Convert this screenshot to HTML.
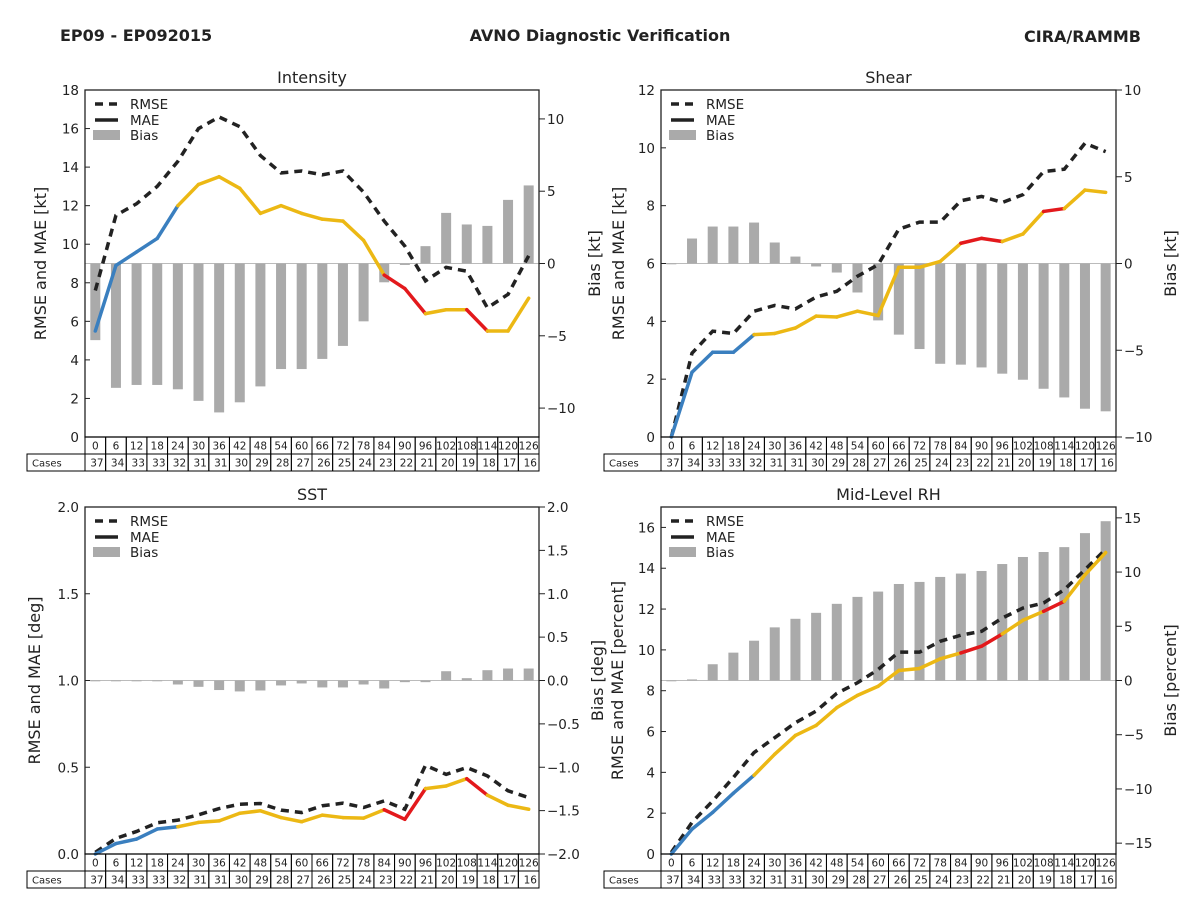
<!DOCTYPE html>
<html><head><meta charset="utf-8"><style>
html,body{margin:0;padding:0;background:#fff;}
svg{display:block;font-family:"DejaVu Sans","Liberation Sans",sans-serif;}
</style></head><body>
<svg id="c" width="1200" height="900" viewBox="0 0 1200 900" xmlns="http://www.w3.org/2000/svg">
<rect width="1200" height="900" fill="#fff"/>
<text x="60" y="41" font-size="16" font-weight="bold" fill="#222">EP09 - EP092015</text>
<text x="600" y="41" font-size="16" font-weight="bold" fill="#222" text-anchor="middle">AVNO Diagnostic Verification</text>
<text x="1141" y="42" font-size="16" font-weight="bold" fill="#222" text-anchor="end">CIRA/RAMMB</text>
</svg>
<script>
const leads = [0,6,12,18,24,30,36,42,48,54,60,66,72,78,84,90,96,102,108,114,120,126];
const cases = [37,34,33,33,32,31,31,30,29,28,27,26,25,24,23,22,21,20,19,18,17,16];
const segColors = ['b','b','b','b','y','y','y','y','y','y','y','y','y','y','r','r','y','y','r','y','y'];

const intRmse = [7.6,11.5,12.1,13.0,14.3,16.0,16.6,16.1,14.6,13.7,13.8,13.6,13.8,12.7,11.2,9.9,8.1,8.8,8.6,6.7,7.4,9.4];
const intMae  = [5.5,8.9,9.6,10.3,12.0,13.1,13.5,12.9,11.6,12.0,11.6,11.3,11.2,10.2,8.4,7.7,6.4,6.6,6.6,5.5,5.5,7.2];
const intBias = [-5.3,-8.6,-8.4,-8.4,-8.7,-9.5,-10.3,-9.6,-8.5,-7.3,-7.3,-6.6,-5.7,-4.0,-1.3,-0.1,1.2,3.5,2.7,2.6,4.4,5.4];

const shrRmse = [0.0,2.9,3.66,3.58,4.35,4.55,4.43,4.84,5.04,5.56,5.96,7.19,7.43,7.43,8.17,8.32,8.11,8.38,9.18,9.26,10.16,9.87];
const shrMae  = [0.0,2.24,2.93,2.93,3.54,3.58,3.77,4.18,4.15,4.35,4.2,5.87,5.87,6.07,6.7,6.87,6.76,7.02,7.8,7.9,8.54,8.46];
const shrBias = [0.0,1.44,2.13,2.13,2.36,1.21,0.4,-0.17,-0.52,-1.67,-3.28,-4.1,-4.93,-5.78,-5.83,-5.99,-6.35,-6.7,-7.22,-7.72,-8.37,-8.52];

const sstRmse = [0.01,0.09,0.13,0.18,0.195,0.226,0.262,0.287,0.291,0.253,0.239,0.278,0.293,0.268,0.306,0.258,0.511,0.459,0.498,0.45,0.364,0.325];
const sstMae  = [0.0,0.06,0.086,0.144,0.157,0.182,0.191,0.235,0.249,0.21,0.186,0.224,0.21,0.207,0.255,0.2,0.377,0.392,0.434,0.339,0.281,0.258];
const sstBias = [0.0,0.0,0.0,0.0,-0.046,-0.073,-0.11,-0.126,-0.115,-0.057,-0.034,-0.08,-0.08,-0.046,-0.092,-0.019,-0.019,0.107,0.027,0.119,0.138,0.138];

const rhRmse = [0.08,1.55,2.6,3.75,4.97,5.7,6.43,7.0,7.87,8.39,9.04,9.89,9.89,10.42,10.72,10.91,11.56,12.05,12.3,12.95,13.93,14.93];
const rhMae  = [0.0,1.22,2.04,2.98,3.86,4.89,5.81,6.3,7.17,7.77,8.22,8.99,9.09,9.56,9.85,10.18,10.78,11.45,11.89,12.38,13.68,14.77];
const rhBias = [0.0,0.1,1.5,2.57,3.67,4.9,5.69,6.24,7.07,7.71,8.2,8.9,9.09,9.55,9.86,10.1,10.74,11.39,11.85,12.3,13.59,14.69];

const intLeftTicks = [0,2,4,6,8,10,12,14,16,18];
const intRightTicks = [10,5,0,-5,-10];
const shrLeftTicks = [0,2,4,6,8,10,12];
const shrRightTicks = [10,5,0,-5,-10];
const sstLeftTicks = [0,0.5,1.0,1.5,2.0];
const sstRightTicks = [2.0,1.5,1.0,0.5,0,-0.5,-1.0,-1.5,-2.0];
const rhLeftTicks = [0,2,4,6,8,10,12,14,16];
const rhRightTicks = [15,10,5,0,-5,-10,-15];

const NS='http://www.w3.org/2000/svg';
const svg=document.getElementById('c');
const COL={b:'#3a7fbf',y:'#ecb814',r:'#e3191c'};
function mk(tag,attrs,parent,txt){const e=document.createElementNS(NS,tag);for(const k in attrs)e.setAttribute(k,attrs[k]);if(txt!==undefined)e.textContent=txt;(parent||svg).appendChild(e);return e;}
function fmt(v,dec){let s=v.toFixed(dec);if(v<0)s='\u2212'+(-v).toFixed(dec);return s;}

function panel(o){
  const g=mk('g',{});
  
  
  const L=o.x0,R=o.x1,T=o.y0,B=o.y1,W=R-L,H=B-T;
  const n=leads.length, cw=W/n;
  const xs=i=>L+cw*(i+0.5);
  const yl=v=>B-(v-o.lmin)/(o.lmax-o.lmin)*H;
  const yr=v=>B-(v-o.rmin)/(o.rmax-o.rmin)*H;
  // title
  const t=mk('text',{x:(L+R)/2,y:T-7,'font-size':16,'text-anchor':'middle',fill:'#222'},g,o.title);
  
  
  // zero line
  const z=mk('line',{x1:L,x2:R,y1:yr(0),y2:yr(0),stroke:'#bbb','stroke-width':1},g);
  
  
  // bias bars
  o.bias.forEach((v,i)=>{
    const y0=yr(0),y1=yr(v);
    const r=mk('rect',{x:xs(i)-5,y:Math.min(y0,y1),width:10,height:Math.max(Math.abs(y1-y0),0.8),fill:'#aaaaaa'},g);
    
    
  });
  // rmse dashed
  const pts=o.rmse.map((v,i)=>xs(i)+','+yl(v)).join(' ');
  const pl=mk('polyline',{points:pts,fill:'none',stroke:'#222','stroke-width':3.5,'stroke-dasharray':'8,6'},g);
  
  
  // mae colored segments
  for(let i=0;i<n-1;i++){
    const s=mk('line',{x1:xs(i),y1:yl(o.mae[i]),x2:xs(i+1),y2:yl(o.mae[i+1]),stroke:COL[segColors[i]],'stroke-width':3.5,'stroke-linecap':'round'},g);
    
    
  }
  // frame
  const fr=mk('rect',{x:L,y:T,width:W,height:H,fill:'none',stroke:'#222','stroke-width':1.3},g);
  
  
  // left ticks
  o.lt.forEach(v=>{
    const y=yl(v);
    mk('line',{x1:L,x2:L+5,y1:y,y2:y,stroke:'#222'},g);
    const tl=mk('text',{x:L-6,y:y+5,'font-size':13.5,'text-anchor':'end',fill:'#222'},g,fmt(v,o.ldec));
    
    
  });
  o.rt.forEach(v=>{
    const y=yr(v);
    mk('line',{x1:R,x2:R+6,y1:y,y2:y,stroke:'#222'},g);
    const tr=mk('text',{x:R+8,y:y+5,'font-size':13.5,fill:'#222'},g,fmt(v,o.rdec));
    
    
  });
  // axis labels
  const la=mk('text',{x:0,y:0,'font-size':16,'text-anchor':'middle',fill:'#222',transform:`translate(${o.llx},${(T+B)/2}) rotate(-90)`},g,o.ylabel);
  
  
  const ra=mk('text',{x:0,y:0,'font-size':16,'text-anchor':'middle',fill:'#222',transform:`translate(${o.rlx},${(T+B)/2}) rotate(-90)`},g,o.rlabel);
  
  
  // legend
  const lg=mk('g',{},g);
  
  
  mk('line',{x1:L+10,x2:L+33,y1:T+14,y2:T+14,stroke:'#222','stroke-width':3.5,'stroke-dasharray':'8,6'},lg);
  mk('text',{x:L+45,y:T+19,'font-size':13.5,fill:'#222'},lg,'RMSE');
  mk('line',{x1:L+10,x2:L+33,y1:T+30,y2:T+30,stroke:'#222','stroke-width':3.5},lg);
  mk('text',{x:L+45,y:T+35,'font-size':13.5,fill:'#222'},lg,'MAE');
  mk('rect',{x:L+8,y:T+40,width:27,height:10,fill:'#aaaaaa'},lg);
  mk('text',{x:L+45,y:T+50,'font-size':13.5,fill:'#222'},lg,'Bias');
  // table
  const tb=mk('g',{},g);
  
  
  const r1=B,r2=B+17,r3=B+34;
  mk('rect',{x:o.cx,y:r2,width:L-o.cx,height:17,fill:'none',stroke:'#000','stroke-width':1},tb);
  mk('text',{x:o.cx+5,y:r2+12.5,'font-size':10,fill:'#222'},tb,'Cases');
  for(let i=0;i<n;i++){
    const x=L+cw*i;
    mk('rect',{x:x,y:r1,width:cw,height:17,fill:'none',stroke:'#000','stroke-width':1},tb);
    mk('rect',{x:x,y:r2,width:cw,height:17,fill:'none',stroke:'#000','stroke-width':1},tb);
    const lt=mk('text',{x:x+cw/2,y:r1+12.5,'font-size':10.5,'text-anchor':'middle',fill:'#222'},tb,String(leads[i]));
    
    
    const ct=mk('text',{x:x+cw-2,y:r2+12.5,'font-size':10.5,'text-anchor':'end',fill:'#222'},tb,String(cases[i]));
    
    
  }
}

panel({name:'intensity',title:'Intensity',x0:85,x1:539,y0:90,y1:437,lmin:0,lmax:18,rmin:-12,rmax:12,
  rmse:intRmse,mae:intMae,bias:intBias,lt:intLeftTicks,rt:intRightTicks,ldec:0,rdec:0,
  ylabel:'RMSE and MAE [kt]',rlabel:'Bias [kt]',llx:46,rlx:600,cx:27});
panel({name:'shear',title:'Shear',x0:661,x1:1116,y0:90,y1:437,lmin:0,lmax:12,rmin:-10,rmax:10,
  rmse:shrRmse,mae:shrMae,bias:shrBias,lt:shrLeftTicks,rt:shrRightTicks,ldec:0,rdec:0,
  ylabel:'RMSE and MAE [kt]',rlabel:'Bias [kt]',llx:624,rlx:1176,cx:604});
panel({name:'sst',title:'SST',x0:85,x1:539,y0:507,y1:854,lmin:0,lmax:2,rmin:-2,rmax:2,
  rmse:sstRmse,mae:sstMae,bias:sstBias,lt:sstLeftTicks,rt:sstRightTicks,ldec:1,rdec:1,
  ylabel:'RMSE and MAE [deg]',rlabel:'Bias [deg]',llx:40,rlx:603,cx:27});
panel({name:'rh',title:'Mid-Level RH',x0:661,x1:1116,y0:507,y1:854,lmin:0,lmax:17,rmin:-16,rmax:16,
  rmse:rhRmse,mae:rhMae,bias:rhBias,lt:rhLeftTicks,rt:rhRightTicks,ldec:0,rdec:0,
  ylabel:'RMSE and MAE [percent]',rlabel:'Bias [percent]',llx:623,rlx:1176,cx:604});
</script>
</body></html>
